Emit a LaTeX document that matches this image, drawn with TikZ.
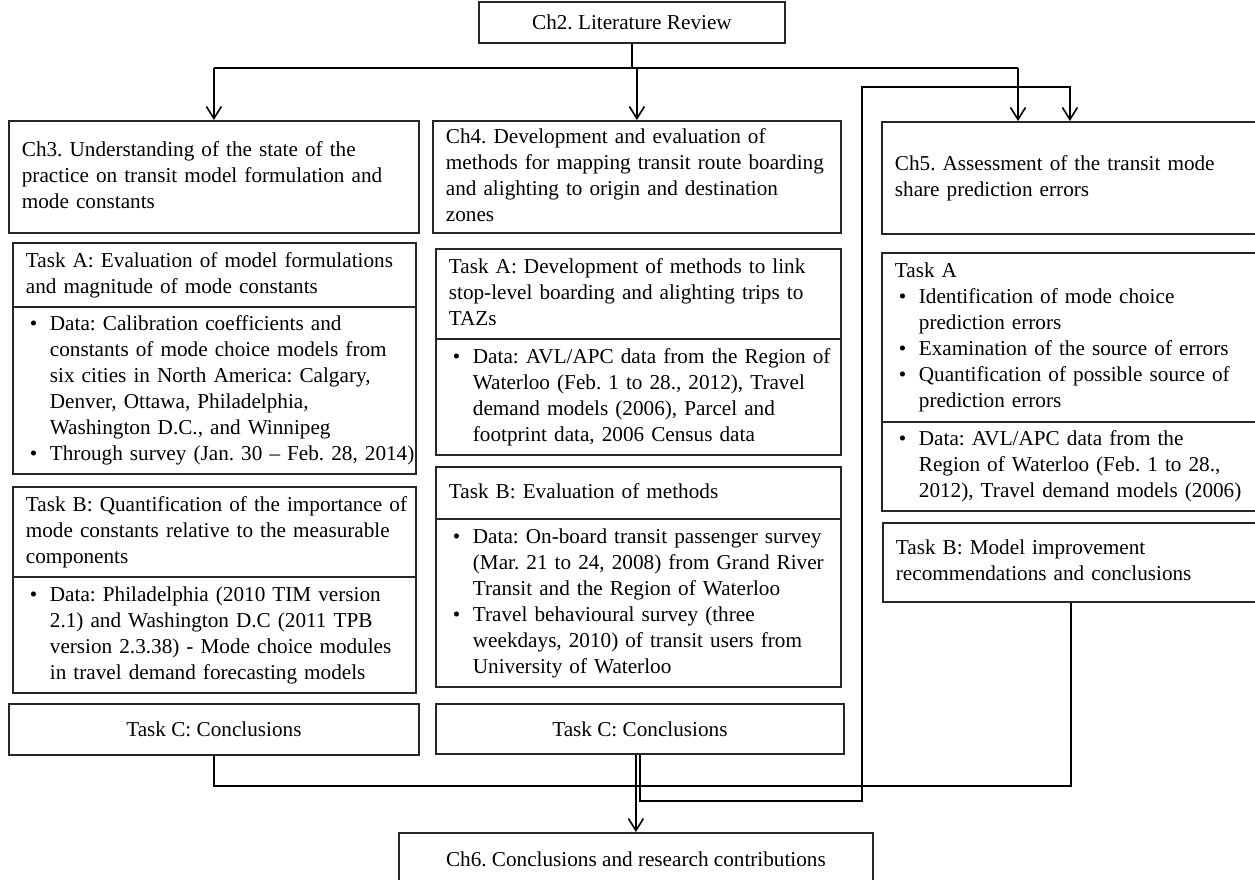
\documentclass[tikz,border=0pt]{standalone}
\usepackage{fontspec}
\setmainfont{Liberation Serif}
\usetikzlibrary{positioning,arrows.meta}
\frenchspacing
\newcommand{\bl}{\makebox[20pt][l]{\textbullet}}
\newcommand{\lns}[1]{\begin{tabular}{@{}l@{}}#1\end{tabular}}
\newcommand{\blns}[1]{\begin{tabular}{@{\hspace{4pt}}l@{}l@{}}#1\end{tabular}}

\begin{document}
\begin{tikzpicture}[x=1pt,y=-1pt,
		every node/.style={font=\fontsize{21.2}{26}\selectfont},
		box/.style={draw=black!85, line width=1.8pt, anchor=north west, inner xsep=13pt, inner ysep=0pt, align=left},
		cbox/.style={draw=black!85, line width=1.8pt, anchor=north west, inner sep=0pt, align=center},
		conn/.style={line width=1.6pt},
		arr/.style={line width=1.6pt, -{Straight Barb[length=12pt,width=15pt]}}]
	\fill[white] (0,0) rectangle (1255,879);
	\useasboundingbox (0,0) rectangle (1255,879);

	% chapters
	\node[cbox, minimum width=306pt, minimum height=41pt] (ch2) at (478,1) {Ch2. Literature Review};
	\node[box, text width=384pt, minimum height=112pt] (ch3) at (8,120)
		{\lns{Ch3. Understanding of the state of the\\practice on transit model formulation and\\mode constants}};
	\node[box, text width=382pt, minimum height=112pt] (ch4) at (432,120)
		{\lns{Ch4. Development and evaluation of\\methods for mapping transit route boarding\\and alighting to origin and destination\\zones}};
	\node[box, text width=350pt, minimum height=112pt] (ch5) at (881,121)
		{\lns{Ch5. Assessment of the transit mode\\share prediction errors}};
	\node[cbox, minimum width=474pt, minimum height=52pt] (ch6) at (398,832) {Ch6. Conclusions and research contributions};

	% tasks of ch3
	\node[box, text width=377pt, minimum height=64pt] (ch3a) at (12,242)
		{\lns{Task A: Evaluation of model formulations\\and magnitude of mode constants}};
	\node[box, text width=377pt, minimum height=167pt] (ch3ad) at (12,306)
		{\blns{\bl & Data: Calibration coefficients and\\
			& constants of mode choice models from\\
			& six cities in North America: Calgary,\\
			& Denver, Ottawa, Philadelphia,\\
			& Washington D.C., and Winnipeg\\
			\bl & Through survey (Jan. 30 -- Feb. 28, 2014)}};
	\node[box, text width=377pt, minimum height=90pt] (ch3b) at (12,486)
		{\lns{Task B: Quantification of the importance of\\mode constants relative to the measurable\\components}};
	\node[box, text width=377pt, minimum height=116pt] (ch3bd) at (12,576)
		{\blns{\bl & Data: Philadelphia (2010 TIM version\\
			& 2.1) and Washington D.C (2011 TPB\\
			& version 2.3.38) - Mode choice modules\\
			& in travel demand forecasting models}};
	\node[cbox, minimum width=410pt, minimum height=51pt] (ch3c) at (8,703) {Task C: Conclusions};

	% tasks of ch4
	\node[box, text width=379pt, minimum height=90pt] (ch4a) at (435,248)
		{\lns{Task A: Development of methods to link\\stop-level boarding and alighting trips to\\TAZs}};
	\node[box, text width=379pt, minimum height=116pt] (ch4ad) at (435,338)
		{\blns{\bl & Data: AVL/APC data from the Region of\\
			& Waterloo (Feb. 1 to 28., 2012), Travel\\
			& demand models (2006), Parcel and\\
			& footprint data, 2006 Census data}};
	\node[box, text width=379pt, minimum height=52pt] (ch4b) at (435,466)
		{\lns{Task B: Evaluation of methods}};
	\node[box, text width=379pt, minimum height=168pt] (ch4bd) at (435,518)
		{\blns{\bl & Data: On-board transit passenger survey\\
			& (Mar. 21 to 24, 2008) from Grand River\\
			& Transit and the Region of Waterloo\\
			\bl & Travel behavioural survey (three\\
			& weekdays, 2010) of transit users from\\
			& University of Waterloo}};
	\node[cbox, minimum width=408pt, minimum height=50pt] (ch4c) at (435,703) {Task C: Conclusions};

	% tasks of ch5
	\node[box, text width=350pt, minimum height=169pt] (ch5a) at (881,252)
		{\blns{\multicolumn{2}{@{}l@{}}{Task A}\\
			\bl & Identification of mode choice\\
			& prediction errors\\
			\bl & Examination of the source of errors\\
			\bl & Quantification of possible source of\\
			& prediction errors}};
	\node[box, text width=350pt, minimum height=89pt] (ch5ad) at (881,421)
		{\blns{\bl & Data: AVL/APC data from the\\
			& Region of Waterloo (Feb. 1 to 28.,\\
			& 2012), Travel demand models (2006)}};
	\node[box, text width=350pt, minimum height=79pt] (ch5b) at (882,522)
		{\lns{Task B: Model improvement\\recommendations and conclusions}};

	% connectors
	\coordinate (bus) at (0,68);
	\coordinate (in5) at (1018,0);
	\coordinate (ring) at (862,87);
	\coordinate (ringb) at (862,801);
	\coordinate (base) at (0,786);
	\draw[conn] (ch2.south) -- (ch2.south |- bus);
	\draw[conn] (bus -| ch3.north) -- (bus -| in5);
	\draw[arr] (bus -| ch3.north) -- (ch3.north);
	\draw[arr] (bus -| ch4.north) -- (ch4.north);
	\draw[arr] (bus -| in5) -- (in5 |- ch5.north);
	\draw[arr] (ch4c.south) |- (ringb) -- (ring) -| (ch5.north);
	\draw[arr] (ch4c.south -| ch6.north) -- (ch6.north);
	\draw[conn] (ch3c.south) |- (base -| ch5b.south) -- (ch5b.south);
\end{tikzpicture}
\end{document}
